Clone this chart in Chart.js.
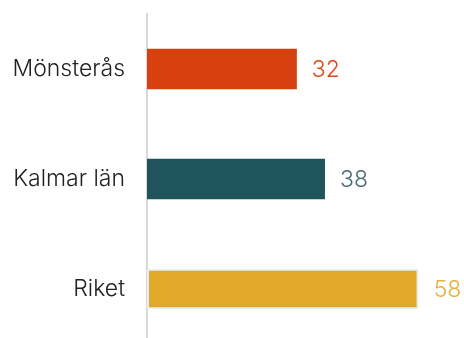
<!DOCTYPE html>
<html>
<head>
<meta charset="utf-8">
<script src="https://cdn.jsdelivr.net/npm/chart.js@4/dist/chart.umd.min.js"></script>
<style>
  html, body { margin: 0; padding: 0; background: #fff; overflow: hidden; }
  #wrap { width: 464px; height: 346px; }
</style>
</head>
<body>
<div id="wrap"><canvas id="c" width="464" height="346"></canvas></div>
<script>
const categories = ['Mönsterås', 'Kalmar län', 'Riket'];
const values = [32, 38, 58];
const barColors = ['#d7400f', '#1f545c', '#e2a829'];
const valueColors = ['#dd4a19', '#4b6d72', '#e8b13f'];
const borderColors = ['#d7400f', '#1f545c', '#e4f1ee'];

const FONT = "'Inter', 'DejaVu Sans', sans-serif";
const FONT_SIZE = 23;
const FONT_WEIGHT = 300;

// Writes each bar's value just past its end
const valueLabels = {
  id: 'valueLabels',
  afterDatasetsDraw(chart) {
    const ctx = chart.ctx;
    const meta = chart.getDatasetMeta(0);
    ctx.save();
    ctx.font = `${FONT_WEIGHT} ${FONT_SIZE}px ${FONT}`;
    ctx.textAlign = 'left';
    ctx.textBaseline = 'middle';
    meta.data.forEach((bar, i) => {
      ctx.fillStyle = valueColors[i];
      ctx.fillText(String(values[i]), bar.x + 15, bar.y + 1);
    });
    ctx.restore();
  }
};

new Chart(document.getElementById('c'), {
  type: 'bar',
  data: {
    labels: categories,
    datasets: [{
      data: values,
      backgroundColor: barColors,
      borderColor: borderColors,
      borderWidth: [0, 0, 2],
      borderSkipped: false,
      barPercentage: 0.37,
      categoryPercentage: 1
    }]
  },
  options: {
    indexAxis: 'y',
    responsive: false,
    animation: false,
    layout: { padding: { top: 14, right: 36, bottom: 2, left: 0 } },
    plugins: { legend: { display: false }, tooltip: { enabled: false } },
    scales: {
      x: { display: false, min: 0, max: 60 },
      y: {
        afterFit(scale) {
          scale.width = 147;
          scale.paddingTop = 0;
          scale.paddingBottom = 0;
        },
        grid: { display: false, drawTicks: false },
        border: { display: true, color: '#d9d9d9', width: 2 },
        ticks: {
          padding: 22,
          color: '#222222',
          font: { family: FONT, size: FONT_SIZE, weight: FONT_WEIGHT }
        }
      }
    }
  },
  plugins: [valueLabels]
});
</script>
</body>
</html>
